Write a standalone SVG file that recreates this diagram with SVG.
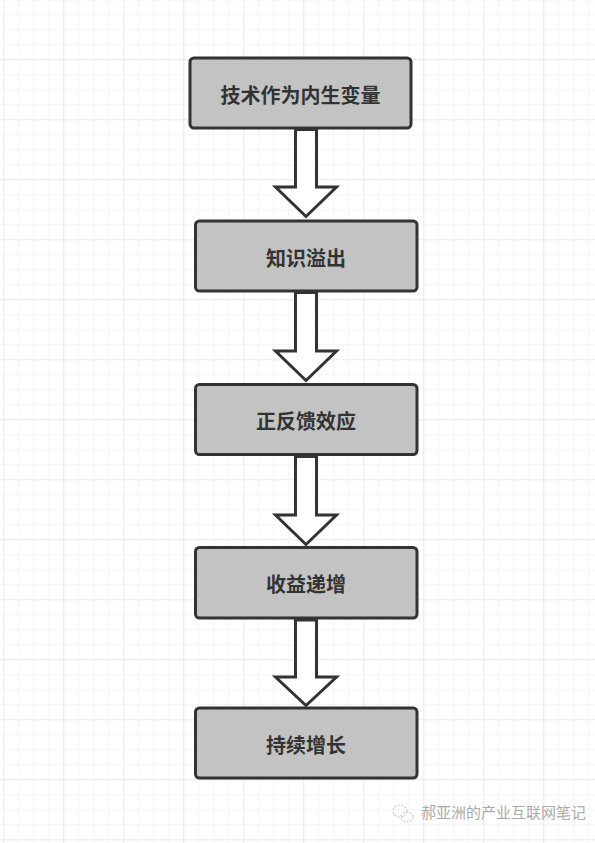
<svg xmlns="http://www.w3.org/2000/svg" width="595" height="843" viewBox="0 0 595 843">
<defs>
<pattern id="minor" x="3.3" y="-0.7" width="15" height="15" patternUnits="userSpaceOnUse">
<path d="M0 0H15M0 0V15" fill="none" stroke="#ebebeb" stroke-width="1"/>
</pattern>
<pattern id="major" x="3.3" y="-0.7" width="60" height="60" patternUnits="userSpaceOnUse">
<path d="M0 0H60M0 0V60" fill="none" stroke="#e0e0e0" stroke-width="1"/>
</pattern>
</defs>
<style>
.box{fill:#c3c3c3;stroke:#333;stroke-width:3}
.lbl{font-family:"Noto Sans CJK SC",sans-serif;font-weight:bold;font-size:20px;fill:#333;text-anchor:middle;dominant-baseline:central}
.arr{fill:#fff;stroke:#333;stroke-width:3;stroke-linejoin:miter}
.wm{font-family:"Noto Sans CJK SC",sans-serif;font-size:15px;fill:#aaa}
</style>
<rect width="595" height="843" fill="#fff"/>
<rect width="595" height="843" fill="url(#minor)"/>
<rect width="595" height="843" fill="url(#major)"/>
<g id="connectors">
<path class="arr" d="M295.5 129.5V187H275.5L306 216.5L336.5 187H316.5V129.5Z"/>
<path class="arr" d="M295.5 292.5V351H275.5L306 380.5L336.5 351H316.5V292.5Z"/>
<path class="arr" d="M295.5 456.5V515H275.5L306 544.5L336.5 515H316.5V456.5Z"/>
<path class="arr" d="M295.5 620V677H275.5L306 705.5L336.5 677H316.5V620Z"/>
</g>
<g id="n1"><rect class="box" x="190" y="58" width="221" height="70" rx="4"/><text class="lbl" x="300.5" y="94">技术作为内生变量</text></g>
<g id="n2"><rect class="box" x="195.5" y="221" width="221.5" height="70" rx="4"/><text class="lbl" x="306" y="257">知识溢出</text></g>
<g id="n3"><rect class="box" x="195.5" y="384.5" width="221.5" height="70" rx="4"/><text class="lbl" x="306" y="420">正反馈效应</text></g>
<g id="n4"><rect class="box" x="195.5" y="547.5" width="221.5" height="70.5" rx="4"/><text class="lbl" x="306" y="583.5">收益递增</text></g>
<g id="n5"><rect class="box" x="195.5" y="708" width="221.5" height="70" rx="4"/><text class="lbl" x="306" y="744">持续增长</text></g>
<g id="watermark">
<ellipse cx="400" cy="811" rx="7" ry="6" fill="none" stroke="#ccc" stroke-width="1.2" stroke-dasharray="2 1.5"/>
<ellipse cx="407" cy="817" rx="6" ry="5" fill="none" stroke="#ccc" stroke-width="1.2" stroke-dasharray="2 1.5"/>
<text class="wm" x="421" y="818">郝亚洲的产业互联网笔记</text>
</g>
</svg>
